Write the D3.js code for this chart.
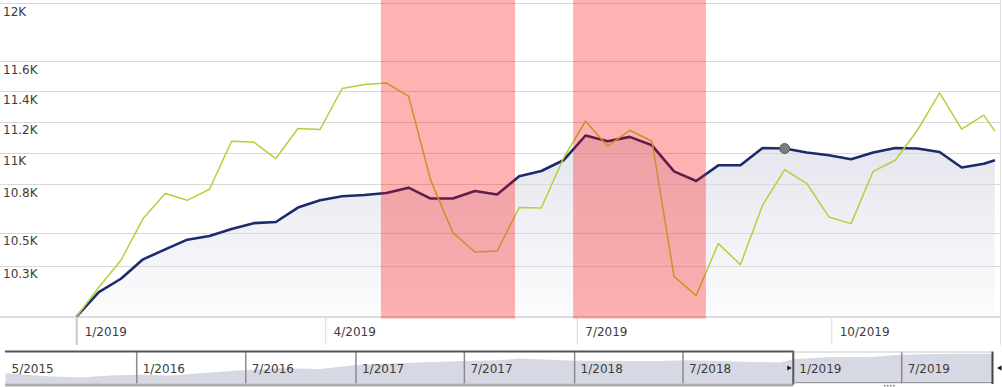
<!DOCTYPE html>
<html>
<head>
<meta charset="utf-8">
<script src="https://cdn.jsdelivr.net/npm/d3@7"></script>
<style>
  body { margin: 0; background: #fff; }
  svg { display: block; font-family: "DejaVu Sans", Verdana, sans-serif; font-size: 12px; }
</style>
</head>
<body>
<div id="chart"></div>
<script>
// main series (8-day steps)
const dates = [
  "2019-01-01", "2019-01-09", "2019-01-17", "2019-01-25", "2019-02-02", "2019-02-10", "2019-02-18",
  "2019-02-26", "2019-03-06", "2019-03-14", "2019-03-22", "2019-03-30", "2019-04-07", "2019-04-15",
  "2019-04-23", "2019-05-01", "2019-05-09", "2019-05-17", "2019-05-25", "2019-06-02", "2019-06-10",
  "2019-06-18", "2019-06-26", "2019-07-04", "2019-07-12", "2019-07-20", "2019-07-28", "2019-08-05",
  "2019-08-13", "2019-08-21", "2019-08-29", "2019-09-06", "2019-09-14", "2019-09-22", "2019-09-30",
  "2019-10-08", "2019-10-16", "2019-10-24", "2019-11-01", "2019-11-09", "2019-11-17", "2019-11-25",
  "2019-11-29"
];
const fundValues = [
  10000, 10143, 10222, 10338, 10398, 10457, 10479, 10522, 10558, 10565, 10654, 10699, 10724, 10732,
  10745, 10778, 10710, 10710, 10757, 10735, 10850, 10883, 10951, 11110, 11073, 11101, 11047, 10881,
  10820, 10919, 10919, 11030, 11026, 11001, 10983, 10958, 11001, 11030, 11026, 11004, 10905, 10929,
  10951
];
const benchmarkValues = [
  10000, 10172, 10332, 10586, 10741, 10699, 10768, 11073, 11067, 10962, 11155, 11149, 11418, 11445,
  11454, 11367, 10824, 10500, 10382, 10388, 10654, 10651, 10964, 11203, 11041, 11144, 11073, 10236,
  10123, 10433, 10306, 10668, 10892, 10804, 10596, 10555, 10881, 10951, 11144, 11389, 11151, 11242,
  11138
];
const markerDate = "2019-09-14";
const bands = [
  ["2019-04-21", "2019-06-08T12:00Z"],
  ["2019-06-29T12:00Z", "2019-08-16T12:00Z"]
];

const yTicks = [10300, 10500, 10800, 11000, 11200, 11400, 11600, 12000];
const yTickLabels = ["10.3K", "10.5K", "10.8K", "11K", "11.2K", "11.4K", "11.6K", "12K"];
const xTicks = ["2019-01-01", "2019-04-01", "2019-07-01", "2019-10-01"];
const xTickLabels = ["1/2019", "4/2019", "7/2019", "10/2019"];

// navigator (long history, relative level 0-100)
const navDates = [
  "2015-05-27", "2015-08-10", "2015-09-29", "2015-11-18", "2016-01-01", "2016-02-25", "2016-04-15",
  "2016-07-01", "2016-08-26", "2016-11-01", "2017-01-01", "2017-03-15", "2017-05-21", "2017-07-01",
  "2017-08-29", "2017-10-01", "2017-12-08", "2018-01-01", "2018-03-20", "2018-05-27", "2018-07-01",
  "2018-09-01", "2018-10-05", "2018-12-10", "2019-01-01", "2019-03-03", "2019-05-10", "2019-06-30",
  "2019-09-20", "2019-11-29"
];
const navValues = [
  32, 22, 19, 25, 27, 25, 32, 42, 48, 45, 58, 63, 68, 70, 73, 78, 73, 71, 70, 70, 73, 70, 68, 66,
  76, 83, 83, 90, 93, 93
];
const navTicks = ["2016-01-01", "2016-07-01", "2017-01-01", "2017-07-01", "2018-01-01", "2018-07-01", "2019-01-01", "2019-07-01"];
const navTickLabels = ["1/2016", "7/2016", "1/2017", "7/2017", "1/2018", "7/2018", "1/2019", "7/2019"];
const navStartLabel = "5/2015";

const W = 1002, H = 387;
const plotBottom = 316.5;
const svg = d3.select("#chart").append("svg")
  .attr("width", W)
  .attr("height", H);

const x = d3.scaleUtc()
  .domain([new Date("2019-01-01"), new Date("2019-10-01")])
  .range([76.7, 831.7]);
const y = d3.scaleLog()
  .domain([10000, 12000])
  .range([plotBottom, 3]);

const rows = dates.map((d, i) => ({ date: new Date(d), fund: fundValues[i], bench: benchmarkValues[i] }));

// gradient for area under fund line
const defs = svg.append("defs");
const grad = defs.append("linearGradient")
  .attr("id", "fundFill")
  .attr("gradientUnits", "userSpaceOnUse")
  .attr("x1", 0).attr("x2", 0).attr("y1", 130).attr("y2", plotBottom);
grad.append("stop").attr("offset", 0).attr("stop-color", "#e3e4ed");
grad.append("stop").attr("offset", 1).attr("stop-color", "#fcfcfd");

svg.append("path")
  .datum(rows)
  .attr("fill", "url(#fundFill)")
  .attr("d", d3.area().x(d => x(d.date)).y0(plotBottom).y1(d => y(d.fund)));

// grid lines
svg.append("g").selectAll("line")
  .data(yTicks)
  .join("line")
  .attr("x1", 0).attr("x2", 1000)
  .attr("y1", d => Math.round(y(d)) + 0.5).attr("y2", d => Math.round(y(d)) + 0.5)
  .attr("stroke", "#d9d9d9");

// bottom axis line + right border
svg.append("line")
  .attr("x1", 0).attr("x2", 1000)
  .attr("y1", plotBottom + 0.5).attr("y2", plotBottom + 0.5)
  .attr("stroke", "#dcdcdc").attr("stroke-width", 2);
svg.append("line")
  .attr("x1", 1000.5).attr("x2", 1000.5)
  .attr("y1", 0).attr("y2", 345)
  .attr("stroke", "#dcdcdc");

// x ticks
const xAxis = svg.append("g");
xAxis.selectAll("line")
  .data(xTicks)
  .join("line")
  .attr("x1", d => x(new Date(d))).attr("x2", d => x(new Date(d)))
  .attr("y1", plotBottom).attr("y2", 345)
  .attr("stroke", (d, i) => i === 0 ? "#c8c8c8" : "#e0e0e0")
  .attr("stroke-width", (d, i) => i === 0 ? 2 : 1.2);
xAxis.selectAll("text")
  .data(xTicks)
  .join("text")
  .attr("x", d => x(new Date(d)) + 8)
  .attr("y", 336)
  .attr("fill", "#3c3c3c")
  .text((d, i) => xTickLabels[i]);

// lines
svg.append("path")
  .datum(rows)
  .attr("fill", "none")
  .attr("stroke", "#1c2b6c")
  .attr("stroke-width", 2.6)
  .attr("stroke-linejoin", "round")
  .attr("d", d3.line().x(d => x(d.date)).y(d => y(d.fund)));

svg.append("path")
  .datum(rows)
  .attr("fill", "none")
  .attr("stroke", "#b6cf3a")
  .attr("stroke-width", 1.5)
  .attr("stroke-linejoin", "round")
  .attr("d", d3.line().x(d => x(d.date)).y(d => y(d.bench)));

// highlighted periods
svg.append("g").selectAll("rect")
  .data(bands)
  .join("rect")
  .attr("x", d => x(new Date(d[0])))
  .attr("width", d => x(new Date(d[1])) - x(new Date(d[0])))
  .attr("y", 0)
  .attr("height", 318.5)
  .attr("fill", "#ff0000")
  .attr("fill-opacity", 0.3);

// marker
const mk = rows.find(r => +r.date === +new Date(markerDate));
svg.append("circle")
  .attr("cx", x(mk.date))
  .attr("cy", y(mk.fund))
  .attr("r", 5)
  .attr("fill", "#7c7c7c")
  .attr("stroke", "#5c5c5c")
  .attr("stroke-width", 1);

// y labels
svg.append("g").selectAll("text")
  .data(yTicks)
  .join("text")
  .attr("x", 3)
  .attr("y", d => y(d) + 12.5)
  .attr("fill", "#3c3c3c")
  .text((d, i) => yTickLabels[i]);

// ---- navigator ----
const navLeft = 5, navRight = 992.5, navTop = 351.5, navBottom = 383.5;
const nx = d3.scaleUtc()
  .domain([new Date("2016-01-01"), new Date("2019-07-01")])
  .range([136.7, 901.7]);
const ny = d3.scaleLinear().domain([0, 100]).range([navBottom, navTop]);
const navRows = navDates.map((d, i) => ({ date: new Date(d), v: navValues[i] }));
const selStart = nx(new Date("2019-01-01"));

svg.append("path")
  .datum(navRows)
  .attr("fill", "#d6d8e4")
  .attr("d", d3.area().x(d => nx(d.date)).y0(navBottom).y1(d => ny(d.v)));

// separators
const nav = svg.append("g");
nav.selectAll("line.sep")
  .data(navTicks.filter(d => d !== "2019-01-01"))
  .join("line")
  .attr("class", "sep")
  .attr("x1", d => nx(new Date(d))).attr("x2", d => nx(new Date(d)))
  .attr("y1", navTop).attr("y2", navBottom)
  .attr("stroke", "#8a8a8a").attr("stroke-width", 1.5);
nav.selectAll("text")
  .data(navTicks)
  .join("text")
  .attr("x", d => nx(new Date(d)) + 6)
  .attr("y", 373)
  .attr("fill", "#3c3c3c")
  .text((d, i) => navTickLabels[i]);
nav.append("text")
  .attr("x", navLeft + 6.5)
  .attr("y", 373)
  .attr("fill", "#3c3c3c")
  .text(navStartLabel);

// unselected box (left)
nav.append("line")
  .attr("x1", navLeft).attr("x2", selStart + 1)
  .attr("y1", navTop).attr("y2", navTop)
  .attr("stroke", "#555").attr("stroke-width", 2);
nav.append("line")
  .attr("x1", navLeft).attr("x2", selStart)
  .attr("y1", navBottom + 1.5).attr("y2", navBottom + 1.5)
  .attr("stroke", "#adadad").attr("stroke-width", 3);
nav.append("line")
  .attr("x1", selStart).attr("x2", selStart)
  .attr("y1", navTop).attr("y2", navBottom + 1)
  .attr("stroke", "#555").attr("stroke-width", 2);

// selected window
nav.append("line")
  .attr("x1", selStart).attr("x2", navRight)
  .attr("y1", navTop + 0.5).attr("y2", navTop + 0.5)
  .attr("stroke", "#c8c8c8");
nav.append("line")
  .attr("x1", selStart).attr("x2", navRight)
  .attr("y1", navBottom - 1).attr("y2", navBottom - 1)
  .attr("stroke", "#9a9a9a");
nav.append("line")
  .attr("x1", navRight).attr("x2", navRight)
  .attr("y1", navTop).attr("y2", navBottom + 0.5)
  .attr("stroke", "#444").attr("stroke-width", 2);

// handles
nav.append("path")
  .attr("d", `M${selStart - 6},${365.5} L${selStart - 1.5},${368} L${selStart - 6},${370.5} Z`)
  .attr("fill", "#111");
nav.append("path")
  .attr("d", `M${navRight + 9},${365.5} L${navRight + 4.5},${368} L${navRight + 9},${370.5} Z`)
  .attr("fill", "#111");

// scrollbar grip
nav.selectAll("rect.grip")
  .data([0, 1, 2, 3])
  .join("rect")
  .attr("class", "grip")
  .attr("x", d => 884 + d * 3)
  .attr("y", 385)
  .attr("width", 1.5).attr("height", 1.5)
  .attr("fill", "#777");
</script>
</body>
</html>
